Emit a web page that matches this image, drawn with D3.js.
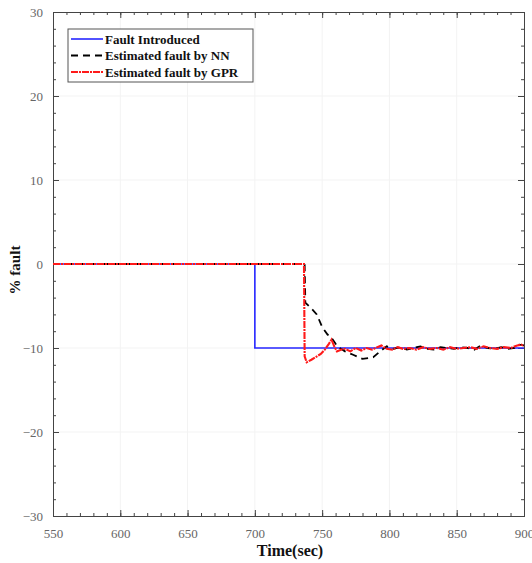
<!DOCTYPE html>
<html>
<head>
<meta charset="utf-8">
<script src="https://cdn.jsdelivr.net/npm/d3@7"></script>
<style>
  body { margin: 0; background: #fff; }
  svg text { font-family: "Liberation Serif", "DejaVu Serif", serif; }
</style>
</head>
<body>
<div id="chart"></div>
<script>
// Fault estimation chart: introduced fault vs NN and GPR estimates

var xTicks = [550, 600, 650, 700, 750, 800, 850, 900];
var yTicks = [-30, -20, -10, 0, 10, 20, 30];

var faultTime  = [550, 700, 700, 900];
var faultValue = [0, 0, -10, -10];

var nnTime  = [550, 737, 737.5, 742, 746, 750, 754, 757, 760, 762, 767, 773, 780, 788, 793, 798,
               803, 808, 813, 818, 823, 828, 833, 838, 843, 848, 853, 858, 863, 868, 873, 878,
               883, 888, 893, 896, 900];
var nnValue = [0, 0, -4.6, -5.3, -6.0, -7.5, -8.4, -8.8, -9.5, -9.9, -10.4, -10.8, -11.3, -11.1, -10.4, -9.8,
               -10.1, -9.9, -10.2, -10.0, -9.8, -10.1, -10.2, -9.9, -10.0, -10.1, -9.9, -10.0, -10.2, -9.7, -10.0, -10.1,
               -9.9, -10.1, -10.0, -9.6, -9.7];

var gprTime  = [550, 736.5, 737, 738.5, 742, 745, 749, 752, 755, 757, 759, 761, 764, 767, 771, 775,
                779, 783, 787, 791, 794, 798, 802, 806, 810, 815, 820, 825, 830, 835, 840, 845,
                850, 855, 860, 865, 870, 875, 880, 885, 890, 895, 898, 900];
var gprValue = [0, 0, -11.0, -11.7, -11.4, -11.1, -10.7, -10.2, -9.5, -9.0, -9.8, -10.4, -10.2, -10.1, -10.4, -10.0,
                -10.3, -10.0, -10.2, -9.9, -9.7, -10.1, -10.2, -9.9, -10.1, -10.0, -10.2, -9.9, -10.1, -10.0, -10.2, -9.9,
                -10.1, -10.0, -9.9, -10.1, -9.8, -10.0, -10.1, -9.9, -10.0, -9.7, -9.6, -9.8];

var seriesNames = ["Fault Introduced", "Estimated fault by NN", "Estimated fault by GPR"];

var width = 532, height = 563;
var margin = { top: 12, right: 8, bottom: 47, left: 53 };

var svg = d3.select("#chart").append("svg")
    .attr("width", width)
    .attr("height", height);

var x = d3.scaleLinear().domain([550, 900]).range([margin.left, width - margin.right]);
var y = d3.scaleLinear().domain([-30, 30]).range([height - margin.bottom, margin.top]);

// faint grid
svg.append("g").selectAll("line").data(xTicks.slice(1, -1)).join("line")
    .attr("x1", d => x(d)).attr("x2", d => x(d))
    .attr("y1", y(30)).attr("y2", y(-30))
    .attr("stroke", "#f3f3f3");
svg.append("g").selectAll("line").data(yTicks.slice(1, -1)).join("line")
    .attr("x1", x(550)).attr("x2", x(900))
    .attr("y1", d => y(d)).attr("y2", d => y(d))
    .attr("stroke", "#f3f3f3");

// axes with inward ticks (bottom/left labelled, top/right bare)
var xMinor = d3.range(550, 901, 10);
var yMinor = d3.range(-30, 31, 2);

function styleAxis(g) {
  g.select(".domain").attr("stroke", "#444");
  g.selectAll(".tick line").attr("stroke", "#444");
  g.selectAll("text").attr("fill", "#666").style("font-size", "13px");
}

svg.append("g")
    .attr("transform", "translate(0," + y(-30) + ")")
    .call(d3.axisBottom(x).tickValues(xMinor).tickSize(-3).tickFormat(""))
    .call(styleAxis);
svg.append("g")
    .attr("transform", "translate(0," + y(-30) + ")")
    .call(d3.axisBottom(x).tickValues(xTicks).tickSize(-6).tickPadding(13))
    .call(styleAxis);
svg.append("g")
    .attr("transform", "translate(0," + y(30) + ")")
    .call(d3.axisTop(x).tickValues(xMinor).tickSize(-3).tickFormat(""))
    .call(styleAxis);
svg.append("g")
    .attr("transform", "translate(0," + y(30) + ")")
    .call(d3.axisTop(x).tickValues(xTicks).tickSize(-6).tickFormat(""))
    .call(styleAxis);

svg.append("g")
    .attr("transform", "translate(" + x(550) + ",0)")
    .call(d3.axisLeft(y).tickValues(yMinor).tickSize(-3).tickFormat(""))
    .call(styleAxis);
svg.append("g")
    .attr("transform", "translate(" + x(550) + ",0)")
    .call(d3.axisLeft(y).tickValues(yTicks).tickSize(-6).tickPadding(10))
    .call(styleAxis);
svg.append("g")
    .attr("transform", "translate(" + x(900) + ",0)")
    .call(d3.axisRight(y).tickValues(yMinor).tickSize(-3).tickFormat(""))
    .call(styleAxis);
svg.append("g")
    .attr("transform", "translate(" + x(900) + ",0)")
    .call(d3.axisRight(y).tickValues(yTicks).tickSize(-6).tickFormat(""))
    .call(styleAxis);

// lines
var line = d3.line().x(d => x(d[0])).y(d => y(d[1]));

var series = [
  { name: seriesNames[0], pts: d3.zip(faultTime, faultValue), color: "#2626ff", width: 1.6, dash: null },
  { name: seriesNames[1], pts: d3.zip(nnTime, nnValue),       color: "#000",    width: 1.8, dash: "7,5" },
  { name: seriesNames[2], pts: d3.zip(gprTime, gprValue),     color: "#ff1a1a", width: 2.1, dash: "7,1,2,1" }
];

svg.append("g").selectAll("path").data(series).join("path")
    .attr("d", d => line(d.pts))
    .attr("fill", "none")
    .attr("stroke", d => d.color)
    .attr("stroke-width", d => d.width)
    .attr("stroke-dasharray", d => d.dash);

// legend
var legend = svg.append("g").attr("transform", "translate(68,29)");
legend.append("rect")
    .attr("width", 185).attr("height", 53)
    .attr("fill", "#fff").attr("stroke", "#555").attr("stroke-width", 1);

var item = legend.selectAll("g.item").data(series).join("g")
    .attr("class", "item")
    .attr("transform", (d, i) => "translate(0," + (10 + i * 16.5) + ")");
item.append("line")
    .attr("x1", 3).attr("x2", 35)
    .attr("stroke", d => d.color)
    .attr("stroke-width", d => d.width)
    .attr("stroke-dasharray", d => d.dash);
item.append("text")
    .attr("x", 37).attr("dy", "0.35em")
    .style("font-size", "13px").style("font-weight", "bold")
    .attr("fill", "#111")
    .text(d => d.name);

// axis titles
svg.append("text")
    .attr("x", 290).attr("y", 556)
    .attr("text-anchor", "middle")
    .style("font-size", "16px").style("font-weight", "bold")
    .attr("fill", "#111")
    .text("Time(sec)");

svg.append("text")
    .attr("transform", "translate(20,270) rotate(-90)")
    .attr("text-anchor", "middle")
    .style("font-size", "15px").style("font-weight", "bold")
    .attr("fill", "#111")
    .text("% fault");
</script>
</body>
</html>
